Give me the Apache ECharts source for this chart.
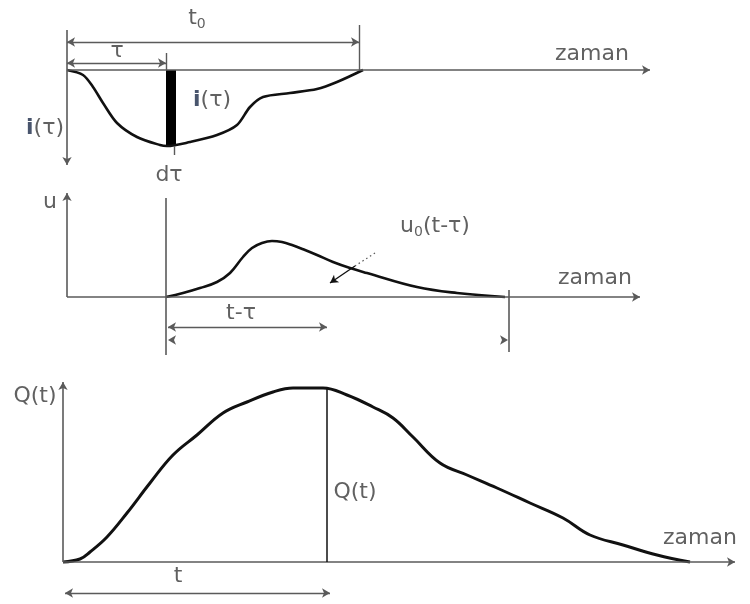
<!DOCTYPE html>
<html>
<head>
<meta charset="utf-8">
<script src="https://cdn.jsdelivr.net/npm/echarts@6/dist/echarts.min.js"></script>
<style>
  html, body { margin: 0; padding: 0; background: #fff; }
  #chart { width: 750px; height: 604px; }
</style>
</head>
<body>
<div id="chart"></div>
<script>
// Rainfall intensity i(τ), plotted downward from the time axis
const rainTime      = [0, 1.6, 2.6, 3.6, 5.0, 7.0, 9.3, 10.0, 12.3, 15.0, 17.0, 18.3, 19.6, 22.3, 25.0, 27.0, 29.6];
const rainIntensity = [0, 0.5, 1.7, 3.3, 5.3, 6.7, 7.5, 7.6, 7.2, 6.5, 5.5, 3.7, 2.7, 2.3, 1.9, 1.2, 0];

// Unit hydrograph u0(t-τ), starting at τ
const unitTime = [9.9, 11.6, 13.3, 15.0, 16.3, 17.6, 18.5, 19.5, 20.5, 21.5, 22.5, 23.8, 25.0, 26.6, 28.3, 30.0, 35.0, 39.0, 43.8];
const unitOrd  = [0, 0.4, 0.9, 1.5, 2.4, 4.0, 4.9, 5.4, 5.6, 5.5, 5.2, 4.7, 4.2, 3.5, 2.9, 2.4, 1.0, 0.4, 0];

// Runoff hydrograph Q(t)
const flowTime = [0, 1.7, 2.7, 4.4, 6.4, 8.7, 11.0, 13.4, 16.0, 18.4, 21.0, 23.0, 26.0, 28.4, 31.0, 33.0, 35.0, 37.7, 40.4, 43.4, 46.7, 50.0, 52.7, 56.0, 59.4, 62.7];
const flowQ    = [0, 0.3, 1.0, 2.5, 4.9, 7.9, 10.7, 12.7, 14.9, 16.0, 17.0, 17.4, 17.4, 16.7, 15.5, 14.4, 12.5, 9.9, 8.7, 7.4, 5.9, 4.4, 2.7, 1.7, 0.7, 0];

// Key instants on the time axes
const tau = 9.9;        // start of the rainfall element
const dTau = 1.0;       // its width
const rainEnd = 29.2;   // t0, end of rainfall
const unitEnd = 44.2;   // end of the lagged unit hydrograph
const tNow = 26.4;      // instant t on the runoff hydrograph

// Axis lengths (data units) for each panel
const topAxisX = 58.3, topAxisY = 9.5;
const midAxisX = 57.3, midAxisY = 10.4;
const botAxisX = 67.2, botAxisY = 18;

const axisGray = '#5a5a5a';
const textColor = '#3a3a3a';
const FONT = 'DejaVu Sans';

const zip = (xs, ys) => xs.map((x, i) => [x, ys[i]]);

// segment helper for markLine data
function seg(p1, p2, s1, s2, style) {
  const a = { coord: p1, symbol: s1 || 'none' };
  const b = { coord: p2, symbol: s2 || 'none' };
  if (style) a.lineStyle = style;
  return [a, b];
}
const axisStyle = { color: axisGray, width: 1.6, type: 'solid' };
const dimStyle  = { color: axisGray, width: 1.4, type: 'solid' };

const richText = {
  base: { fontFamily: FONT, fontSize: 22, color: textColor, fontWeight: 'normal' },
  sub:  { fontFamily: FONT, fontSize: 14, color: textColor, fontWeight: 'normal', verticalAlign: 'bottom', padding: [12, 0, 0, 0] },
  bold: { fontFamily: FONT, fontSize: 22, color: '#1b2a48', fontWeight: 'bold' }
};

function labelSeries(xi, yi, items) {
  return {
    type: 'scatter', xAxisIndex: xi, yAxisIndex: yi, clip: false, silent: true,
    symbolSize: 0.1, itemStyle: { color: 'rgba(0,0,0,0)' },
    data: items.map(d => ({ value: [d[0], d[1]], name: d[2] })),
    label: {
      show: true, position: 'inside',
      formatter: p => p.name,
      rich: richText,
      fontFamily: FONT, fontSize: 22, color: textColor, fontWeight: 'normal'
    },
    z: 10
  };
}

const hiddenAxis = { show: false };

const option = {
  animation: false,
  backgroundColor: '#fff',
  grid: [
    { left: 67, top: 25, width: 583, height: 140 },
    { left: 67, top: 193, width: 573, height: 162 },
    { left: 63, top: 382, width: 672, height: 215 }
  ],
  xAxis: [
    Object.assign({ type: 'value', gridIndex: 0, min: 0, max: topAxisX }, hiddenAxis),
    Object.assign({ type: 'value', gridIndex: 1, min: 0, max: midAxisX }, hiddenAxis),
    Object.assign({ type: 'value', gridIndex: 2, min: 0, max: botAxisX }, hiddenAxis)
  ],
  yAxis: [
    Object.assign({ type: 'value', gridIndex: 0, min: -4.5, max: topAxisY, inverse: true }, hiddenAxis),
    Object.assign({ type: 'value', gridIndex: 1, min: -5.8, max: midAxisY }, hiddenAxis),
    Object.assign({ type: 'value', gridIndex: 2, min: -3.5, max: botAxisY }, hiddenAxis)
  ],
  series: [
    // ---------- top panel: hyetograph ----------
    {
      type: 'line', xAxisIndex: 0, yAxisIndex: 0, clip: false,
      data: zip(rainTime, rainIntensity),
      smooth: 0.3, showSymbol: false, symbol: 'none',
      lineStyle: { color: '#111', width: 2.6 },
      markArea: {
        silent: true,
        itemStyle: { color: '#000' },
        data: [[{ coord: [tau, 0] }, { coord: [tau + dTau, rainIntensity[rainTime.indexOf(10.0)]] }]]
      },
      markLine: {
        silent: true, animation: false, symbolSize: [7, 8],
        label: { show: false },
        data: [
          seg([0, 0], [topAxisX, 0], 'none', 'arrow', axisStyle),
          seg([0, -4], [0, topAxisY], 'none', 'arrow', axisStyle),
          seg([rainEnd, -4.5], [rainEnd, 0], 'none', 'none', dimStyle),
          seg([tau, -1.7], [tau, 0], 'none', 'none', dimStyle),
          seg([0, -2.8], [rainEnd, -2.8], 'arrow', 'arrow', dimStyle),
          seg([0, -0.7], [tau, -0.7], 'arrow', 'arrow', dimStyle),
          seg([tau + 0.8, 7.6], [tau + 0.8, 8.5], 'none', 'none', dimStyle)
        ]
      }
    },
    labelSeries(0, 0, [
      [13.0, -5.2, '{base|t}{sub|0}'],
      [5.0, -1.9, 'τ'],
      [14.5, 3.0, '{bold|i}{base|(τ)}'],
      [-2.2, 5.8, '{bold|i}{base|(τ)}'],
      [10.2, 10.5, 'dτ'],
      [52.5, -1.6, 'zaman']
    ]),

    // ---------- middle panel: unit hydrograph ----------
    {
      type: 'line', xAxisIndex: 1, yAxisIndex: 1, clip: false,
      data: zip(unitTime, unitOrd),
      smooth: 0.4, showSymbol: false, symbol: 'none',
      lineStyle: { color: '#111', width: 2.6 },
      markLine: {
        silent: true, animation: false, symbolSize: [7, 8],
        label: { show: false },
        data: [
          seg([0, 0], [midAxisX, 0], 'none', 'arrow', axisStyle),
          seg([0, 0], [0, midAxisY], 'none', 'arrow', axisStyle),
          seg([tau, midAxisY - 0.5], [tau, -5.8], 'none', 'none', axisStyle),
          seg([unitEnd, 0.7], [unitEnd, -5.5], 'none', 'none', axisStyle),
          seg([tau + 0.2, -3.0], [26.0, -3.0], 'arrow', 'arrow', dimStyle),
          seg([tau + 0.2, -4.3], [tau + 0.9, -4.3], 'arrow', 'none', { color: axisGray, width: 0.01 }),
          seg([unitEnd - 0.9, -4.3], [unitEnd - 0.1, -4.3], 'none', 'arrow', { color: axisGray, width: 0.01 }),
          seg([30.8, 4.4], [28.8, 3.1], 'none', 'none', { color: '#555', width: 1.2, type: [1.5, 3] }),
          seg([28.8, 3.1], [26.3, 1.4], 'none', 'arrow', { color: '#111', width: 1.4, type: 'solid' })
        ]
      }
    },
    labelSeries(1, 1, [
      [-1.7, 9.5, 'u'],
      [36.8, 7.1, '{base|u}{sub|0}{base|(t-τ)}'],
      [17.4, -1.6, 't-τ'],
      [52.8, 1.9, 'zaman']
    ]),

    // ---------- bottom panel: runoff hydrograph ----------
    {
      type: 'line', xAxisIndex: 2, yAxisIndex: 2, clip: false,
      data: zip(flowTime, flowQ),
      smooth: 0.4, showSymbol: false, symbol: 'none',
      lineStyle: { color: '#111', width: 3 },
      markLine: {
        silent: true, animation: false, symbolSize: [7, 8],
        label: { show: false },
        data: [
          seg([0, 0], [botAxisX, 0], 'none', 'arrow', axisStyle),
          seg([0, 0], [0, botAxisY], 'none', 'arrow', axisStyle),
          seg([tNow, 0], [tNow, flowQ[flowTime.indexOf(26.0)]], 'none', 'none', { color: '#111', width: 1.5, type: 'solid' }),
          seg([0.2, -3.1], [tNow + 0.3, -3.1], 'arrow', 'arrow', dimStyle)
        ]
      }
    },
    labelSeries(2, 2, [
      [-2.8, 16.6, 'Q(t)'],
      [29.2, 7.0, 'Q(t)'],
      [11.5, -1.4, 't'],
      [63.7, 2.4, 'zaman']
    ])
  ]
};

const chart = echarts.init(document.getElementById('chart'), null, { renderer: 'canvas' });
chart.setOption(option);
</script>
</body>
</html>
